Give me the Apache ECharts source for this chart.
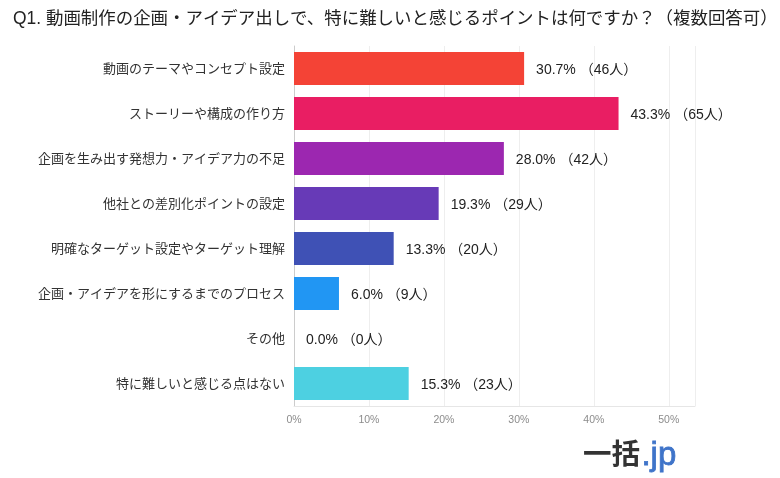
<!DOCTYPE html>
<html>
<head>
<meta charset="utf-8">
<style>
  html, body { margin: 0; padding: 0; background: #fff; }
  #chart { width: 780px; height: 478px; }
</style>
<script src="https://cdn.jsdelivr.net/npm/echarts@6/dist/echarts.min.js"></script>
</head>
<body>
<div id="chart"></div>
<script>
const categories = [
  '動画のテーマやコンセプト設定',
  'ストーリーや構成の作り方',
  '企画を生み出す発想力・アイデア力の不足',
  '他社との差別化ポイントの設定',
  '明確なターゲット設定やターゲット理解',
  '企画・アイデアを形にするまでのプロセス',
  'その他',
  '特に難しいと感じる点はない'
]
const percents = [30.7, 43.3, 28.0, 19.3, 13.3, 6.0, 0.0, 15.3]
const counts = [46, 65, 42, 29, 20, 9, 0, 23]
const colors = ['#f44336', '#e91e63', '#9c27b0', '#673ab7', '#3f51b5', '#2196f3', '#03a9f4', '#4dd0e1']
const titleText = 'Q1. 動画制作の企画・アイデア出しで、特に難しいと感じるポイントは何ですか？（複数回答可）'

const jpFont = '"Noto Sans CJK JP", sans-serif'
const latinFont = '"Liberation Sans", "Noto Sans CJK JP", sans-serif'

const chart = echarts.init(document.getElementById('chart'), null, { renderer: 'canvas' })
chart.setOption({
  animation: false,
  backgroundColor: '#fff',
  title: {
    text: titleText,
    left: 8,
    top: 5,
    textStyle: { fontFamily: latinFont, fontSize: 17.45, fontWeight: 'normal', color: '#222' }
  },
  grid: { left: 294, top: 46, width: 401, height: 360, containLabel: false },
  xAxis: {
    type: 'value',
    min: 0,
    max: 53.5,
    interval: 10,
    axisLine: { show: true, lineStyle: { color: '#e6e6e6' } },
    axisTick: { show: false },
    splitLine: { lineStyle: { color: '#eeeeee' } },
    axisLabel: {
      color: '#8c8c8c',
      fontFamily: latinFont,
      fontSize: 10.5,
      margin: 9,
      showMaxLabel: false,
      formatter: '{value}%'
    }
  },
  yAxis: {
    type: 'category',
    inverse: true,
    data: categories,
    axisLine: { show: true, onZero: false, lineStyle: { color: '#cccccc' } },
    axisTick: { show: false },
    axisLabel: { color: '#333', fontFamily: jpFont, fontSize: 13, margin: 9, padding: [3, 0, 0, 0] }
  },
  series: [{
    type: 'bar',
    barWidth: 33,
    data: percents.map(function (v, i) {
      return { value: v, itemStyle: { color: colors[i] } }
    }),
    label: {
      show: true,
      position: 'right',
      distance: 12,
      offset: [0, 1.5],
      color: '#222',
      fontFamily: latinFont,
      fontSize: 14,
      formatter: function (p) {
        return percents[p.dataIndex].toFixed(1) + '% （' + counts[p.dataIndex] + '人）'
      }
    }
  }],
  graphic: [
    {
      type: 'text',
      left: 583,
      top: 439,
      style: { text: '一括', fill: '#333', font: 'bold 28.5px ' + jpFont }
    },
    {
      type: 'text',
      left: 641,
      top: 439,
      style: { text: '.jp', fill: '#3f74c9', stroke: '#3f74c9', lineWidth: 0.8, font: '33px ' + latinFont }
    }
  ]
})
</script>
</body>
</html>
